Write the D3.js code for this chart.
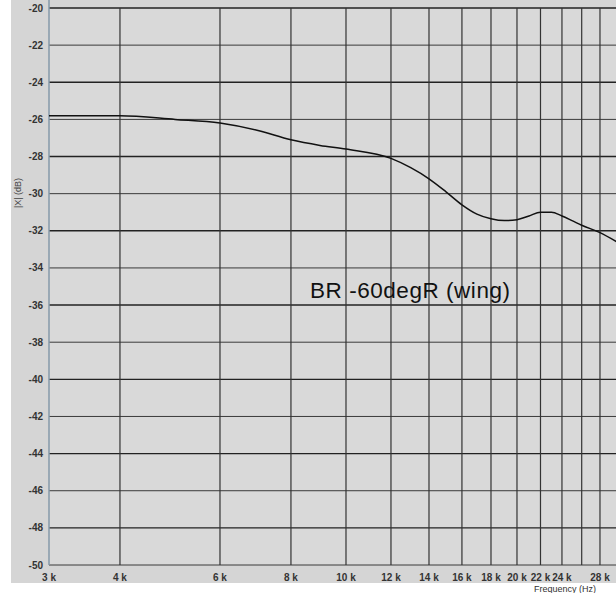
<!DOCTYPE html>
<html>
<head>
<meta charset="utf-8">
<script src="https://cdn.jsdelivr.net/npm/d3@7"></script>
<style>
  body { margin: 0; background: #fff; }
  text { font-family: "Liberation Sans", Arial, sans-serif; }
</style>
</head>
<body>
<div id="chart"></div>
<script>
// curve (Hz, dB)
const freqs = [3000, 4000, 5000, 6000, 7000, 8000, 9000, 10000, 12000, 13000, 14000, 15000, 16000,
               17000, 18000, 19000, 20000, 21000, 22000, 23000, 24000, 25000, 26000, 28000, 30000];
const levels = [-25.8, -25.8, -26.0, -26.2, -26.6, -27.1, -27.4, -27.6, -28.1, -28.6, -29.2, -29.9, -30.6,
                -31.1, -31.35, -31.45, -31.4, -31.2, -31.0, -31.0, -31.2, -31.45, -31.7, -32.1, -32.6];

const gridFreqs = [3000, 4000, 6000, 8000, 10000, 12000, 14000, 16000, 18000, 20000, 22000, 24000, 26000, 28000, 30000];
const labelFreqs = [3000, 4000, 6000, 8000, 10000, 12000, 14000, 16000, 18000, 20000, 22000, 24000, 28000];
const yTicks = d3.range(-50, -19, 2);
const title = "BR -60degR (wing)";

const W = 616, H = 593;
const svg = d3.select("#chart").append("svg")
  .attr("width", W)
  .attr("height", H);

// grey panel
svg.append("rect")
  .attr("x", 11).attr("y", 0)
  .attr("width", W - 11).attr("height", 583)
  .attr("fill", "#d5d5d5");

const x = d3.scaleLog().domain([3000, 30000]).range([49, 617]);
const y = d3.scaleLinear().domain([-50, -20]).range([565, 8]);

svg.append("rect")
  .attr("x", 49).attr("y", 8)
  .attr("width", W - 49).attr("height", 557)
  .attr("fill", "#d9d9d9");

// horizontal grid
svg.selectAll(".hgrid")
  .data(yTicks)
  .enter()
  .append("line")
  .attr("class", "hgrid")
  .attr("x1", 49).attr("x2", W)
  .attr("y1", d => y(d)).attr("y2", d => y(d))
  .attr("stroke", d => d % 4 === 0 ? "#222" : "#3a3a3a")
  .attr("stroke-width", d => d % 4 === 0 ? 1.4 : 1);

// vertical grid
svg.selectAll(".vgrid")
  .data(gridFreqs.slice(1))
  .enter()
  .append("line")
  .attr("class", "vgrid")
  .attr("x1", d => x(d)).attr("x2", d => x(d))
  .attr("y1", 8).attr("y2", 565)
  .attr("stroke", "#333")
  .attr("stroke-width", 1.2);

// left axis line
svg.append("line")
  .attr("x1", 49).attr("x2", 49)
  .attr("y1", 0).attr("y2", 565)
  .attr("stroke", "#8598a8")
  .attr("stroke-width", 1.5);

// y tick labels
svg.selectAll(".ylab")
  .data(yTicks)
  .enter()
  .append("text")
  .attr("class", "ylab")
  .attr("x", 43)
  .attr("y", d => y(d) + 3.5)
  .attr("text-anchor", "end")
  .attr("font-size", 10)
  .attr("font-weight", "bold")
  .attr("fill", "#333")
  .text(d => d);

// x tick labels
svg.selectAll(".xlab")
  .data(labelFreqs)
  .enter()
  .append("text")
  .attr("class", "xlab")
  .attr("x", d => x(d))
  .attr("y", 581)
  .attr("text-anchor", "middle")
  .attr("font-size", 10)
  .attr("font-weight", "bold")
  .attr("fill", "#333")
  .text(d => (d / 1000) + " k");

svg.append("text")
  .attr("x", 565).attr("y", 592)
  .attr("text-anchor", "middle")
  .attr("font-size", 9)
  .attr("fill", "#333")
  .text("Frequency (Hz)");

svg.append("text")
  .attr("transform", "translate(21,193) rotate(-90)")
  .attr("text-anchor", "middle")
  .attr("font-size", 9)
  .attr("fill", "#444")
  .text("|X| (dB)");

// curve
const line = d3.line()
  .x((d, i) => x(freqs[i]))
  .y(d => y(d))
  .curve(d3.curveMonotoneX);

svg.append("path")
  .datum(levels)
  .attr("d", line)
  .attr("fill", "none")
  .attr("stroke", "#111")
  .attr("stroke-width", 1.5);

svg.append("text")
  .attr("x", 310).attr("y", 298)
  .attr("font-size", 22.5)
  .attr("textLength", 200)
  .attr("fill", "#111")
  .text(title);
</script>
</body>
</html>
